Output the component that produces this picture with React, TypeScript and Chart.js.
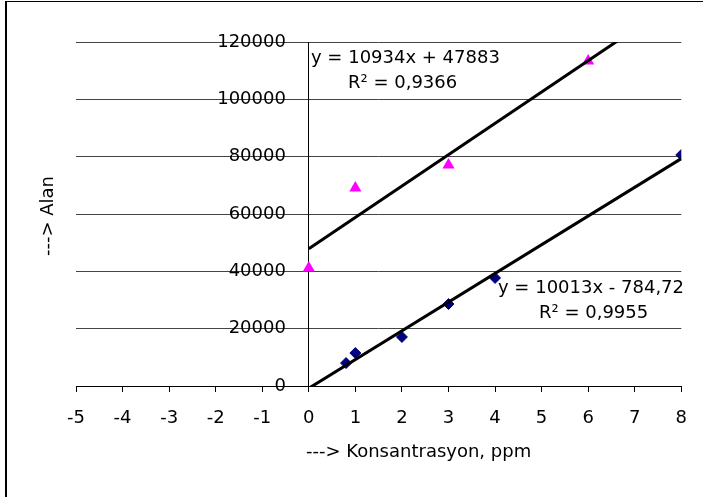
import React, { useEffect, useRef } from 'react';
import { Chart, registerables } from 'chart.js';

Chart.register(...registerables);

// Series 1 (blue diamonds)
const blueX = [0.8, 1, 2, 3, 4, 8];
const blueY = [8000, 11500, 17100, 28600, 37700, 80600];
// Series 2 (magenta triangles)
const pinkX = [0, 1, 3, 6];
const pinkY = [41200, 69100, 77100, 113400];

// Linear trend lines (slope, intercept) and their x ranges
const trendSlopes = [10013, 10934];
const trendIntercepts = [-784.72, 47883];
const trendStartX = [0, 0];
const trendEndX = [8, 7];

// Equation labels
const blueEq = ['y = 10013x - 784,72', 'R² = 0,9955'];
const pinkEq = ['y = 10934x + 47883', 'R² = 0,9366'];

// Axes
const xMin = -5;
const xMax = 8;
const yMin = 0;
const yMax = 120000;
const yStep = 20000;
const xTitle = '---> Konsantrasyon, ppm';
const yTitle = '---> Alan';

const FONT = '"DejaVu Sans", sans-serif';

const trendPoints = (i: number) => [
  { x: trendStartX[i], y: trendSlopes[i] * trendStartX[i] + trendIntercepts[i] },
  { x: trendEndX[i], y: trendSlopes[i] * trendEndX[i] + trendIntercepts[i] },
];

const annotPlugin = {
  id: 'annot',
  afterDraw(chart: any) {
    const ctx = chart.ctx as CanvasRenderingContext2D;
    ctx.save();
    // outer frame (partly outside the picture)
    ctx.fillStyle = '#000';
    ctx.fillRect(5, 1, 2, 496);
    ctx.fillRect(5, 1, 698, 1);

    ctx.font = `18px ${FONT}`;
    ctx.textBaseline = 'middle';
    ctx.textAlign = 'left';
    ctx.fillText(pinkEq[0], 311, 58);
    ctx.fillText(pinkEq[1], 348, 83);
    ctx.fillText(blueEq[0], 498, 288);
    ctx.fillText(blueEq[1], 539, 313);

    ctx.fillText(xTitle, 306, 452);

    ctx.translate(48, 216);
    ctx.rotate(-Math.PI / 2);
    ctx.textAlign = 'center';
    ctx.fillText(yTitle, 0, 0);
    ctx.restore();
  },
};

export default function App() {
  const ref = useRef<HTMLCanvasElement | null>(null);

  useEffect(() => {
    if (!ref.current) return;
    const chart = new Chart(ref.current, {
      type: 'scatter',
      data: {
        datasets: [
          {
            type: 'line',
            data: trendPoints(0),
            borderColor: '#000',
            borderWidth: 3,
            pointRadius: 0,
            fill: false,
          },
          {
            type: 'line',
            data: trendPoints(1),
            borderColor: '#000',
            borderWidth: 3,
            pointRadius: 0,
            fill: false,
          },
          {
            data: blueX.map((x, i) => ({ x, y: blueY[i] })),
            pointStyle: 'rectRot',
            pointRadius: 5.5,
            backgroundColor: '#000080',
            borderColor: '#000080',
            borderWidth: 1,
          },
          {
            data: pinkX.map((x, i) => ({ x, y: pinkY[i] })),
            pointStyle: 'triangle',
            pointRadius: 7,
            backgroundColor: '#FF00FF',
            borderColor: '#FF00FF',
            borderWidth: 0,
          },
        ],
      },
      options: {
        animation: false,
        responsive: true,
        maintainAspectRatio: false,
        layout: { padding: { left: 76, right: 20, top: 42, bottom: 71 } },
        plugins: {
          legend: { display: false },
          tooltip: { enabled: false },
        },
        scales: {
          x: {
            type: 'linear',
            position: 'bottom',
            min: xMin,
            max: xMax,
            ticks: {
              stepSize: 1,
              color: '#000',
              font: { family: FONT, size: 18 },
              padding: 16,
              maxRotation: 0,
              callback: (v: any) => String(v),
            },
            grid: { drawOnChartArea: false, drawTicks: true, tickLength: 6, color: '#000' },
            border: { display: true, color: '#000', width: 1 },
            afterFit: (scale: any) => {
              scale.height = 40;
            },
          },
          y: {
            type: 'linear',
            position: { x: 0 } as any,
            min: yMin,
            max: yMax,
            ticks: {
              stepSize: yStep,
              color: '#000',
              font: { family: FONT, size: 18 },
              callback: (v: any) => String(v) + '    ',
            },
            grid: { drawOnChartArea: true, drawTicks: false, color: '#444' },
            border: { display: true, color: '#000', width: 1 },
          },
        },
      },
      plugins: [annotPlugin],
    } as any);
    return () => chart.destroy();
  }, []);

  return (
    <div style={{ position: 'fixed', left: 0, top: 0, width: 703, height: 497, background: '#fff' }}>
      <canvas ref={ref} />
    </div>
  );
}
